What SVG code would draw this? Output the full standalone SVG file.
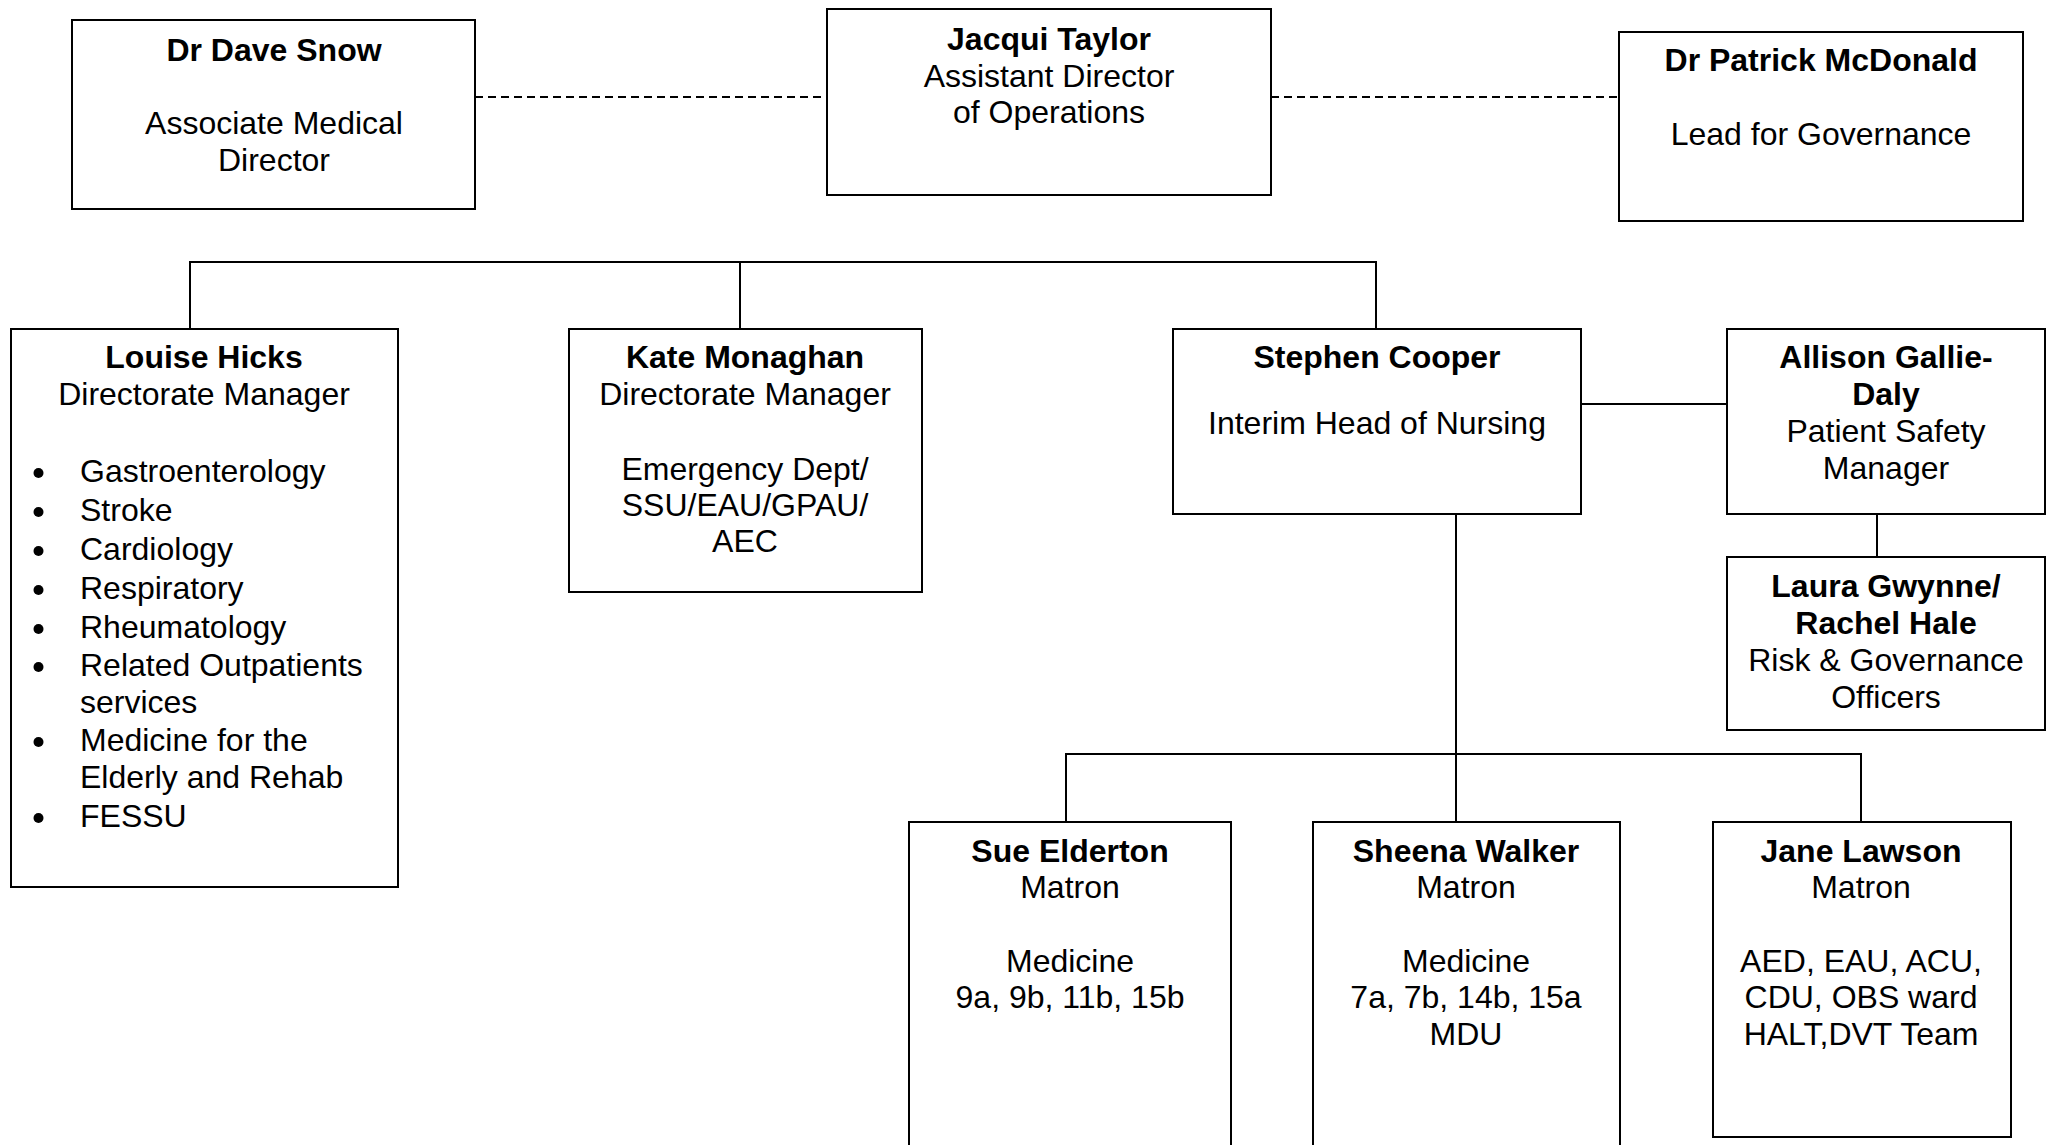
<svg xmlns="http://www.w3.org/2000/svg" width="2054" height="1145" viewBox="0 0 2054 1145">
<style>
  .box { fill: #ffffff; stroke: #000000; stroke-width: 2; }
  .t { font-family: "Liberation Sans", Arial, sans-serif; font-size: 32px; fill: #000000; }
  .c { text-anchor: middle; }
  .b { font-weight: bold; }
  .ln { fill: none; stroke: #000000; stroke-width: 2; }
  .dash { fill: none; stroke: #000000; stroke-width: 2; stroke-dasharray: 8 5; }
</style>
<rect x="0" y="0" width="2054" height="1145" fill="#ffffff"/>

<g id="connectors">
  <path class="dash" d="M475,97 H827"/>
  <path class="dash" d="M1271,97 H1619"/>
  <path class="ln" d="M190,329 V262 H1376 V329"/>
  <path class="ln" d="M740,262 V329"/>
  <path class="ln" d="M1581,404 H1727"/>
  <path class="ln" d="M1877,514 V557"/>
  <path class="ln" d="M1456,514 V822"/>
  <path class="ln" d="M1066,822 V754 H1861 V822"/>
</g>

<g id="dave-snow">
  <rect class="box" x="72" y="20" width="403" height="189"/>
  <text class="t c b" x="274" y="61">Dr Dave Snow</text>
  <text class="t c" x="274" y="134">Associate Medical</text>
  <text class="t c" x="274" y="171">Director</text>
</g>

<g id="jacqui-taylor">
  <rect class="box" x="827" y="9" width="444" height="186"/>
  <text class="t c b" x="1049" y="50">Jacqui Taylor</text>
  <text class="t c" x="1049" y="87">Assistant Director</text>
  <text class="t c" x="1049" y="123">of Operations</text>
</g>

<g id="patrick-mcdonald">
  <rect class="box" x="1619" y="32" width="404" height="189"/>
  <text class="t c b" x="1821" y="71">Dr Patrick McDonald</text>
  <text class="t c" x="1821" y="145">Lead for Governance</text>
</g>

<g id="louise-hicks">
  <rect class="box" x="11" y="329" width="387" height="558"/>
  <text class="t c b" x="204" y="368">Louise Hicks</text>
  <text class="t c" x="204" y="405">Directorate Manager</text>
  <g fill="#000000">
    <circle cx="38.5" cy="473" r="5"/>
    <circle cx="38.5" cy="512" r="5"/>
    <circle cx="38.5" cy="551" r="5"/>
    <circle cx="38.5" cy="590" r="5"/>
    <circle cx="38.5" cy="629" r="5"/>
    <circle cx="38.5" cy="667" r="5"/>
    <circle cx="38.5" cy="742" r="5"/>
    <circle cx="38.5" cy="818" r="5"/>
  </g>
  <text class="t" x="80" y="482">Gastroenterology</text>
  <text class="t" x="80" y="521">Stroke</text>
  <text class="t" x="80" y="560">Cardiology</text>
  <text class="t" x="80" y="599">Respiratory</text>
  <text class="t" x="80" y="638">Rheumatology</text>
  <text class="t" x="80" y="676">Related Outpatients</text>
  <text class="t" x="80" y="713">services</text>
  <text class="t" x="80" y="751">Medicine for the</text>
  <text class="t" x="80" y="788">Elderly and Rehab</text>
  <text class="t" x="80" y="827">FESSU</text>
</g>

<g id="kate-monaghan">
  <rect class="box" x="569" y="329" width="353" height="263"/>
  <text class="t c b" x="745" y="368">Kate Monaghan</text>
  <text class="t c" x="745" y="405">Directorate Manager</text>
  <text class="t c" x="745" y="480">Emergency Dept/</text>
  <text class="t c" x="745" y="516">SSU/EAU/GPAU/</text>
  <text class="t c" x="745" y="552">AEC</text>
</g>

<g id="stephen-cooper">
  <rect class="box" x="1173" y="329" width="408" height="185"/>
  <text class="t c b" x="1377" y="368">Stephen Cooper</text>
  <text class="t c" x="1377" y="434">Interim Head of Nursing</text>
</g>

<g id="allison-gallie-daly">
  <rect class="box" x="1727" y="329" width="318" height="185"/>
  <text class="t c b" x="1886" y="368">Allison Gallie-</text>
  <text class="t c b" x="1886" y="405">Daly</text>
  <text class="t c" x="1886" y="442">Patient Safety</text>
  <text class="t c" x="1886" y="479">Manager</text>
</g>

<g id="laura-gwynne-rachel-hale">
  <rect class="box" x="1727" y="557" width="318" height="173"/>
  <text class="t c b" x="1886" y="597">Laura Gwynne/</text>
  <text class="t c b" x="1886" y="634">Rachel Hale</text>
  <text class="t c" x="1886" y="671">Risk &amp; Governance</text>
  <text class="t c" x="1886" y="708">Officers</text>
</g>

<g id="sue-elderton">
  <rect class="box" x="909" y="822" width="322" height="340"/>
  <text class="t c b" x="1070" y="862">Sue Elderton</text>
  <text class="t c" x="1070" y="898">Matron</text>
  <text class="t c" x="1070" y="972">Medicine</text>
  <text class="t c" x="1070" y="1008">9a, 9b, 11b, 15b</text>
</g>

<g id="sheena-walker">
  <rect class="box" x="1313" y="822" width="307" height="340"/>
  <text class="t c b" x="1466" y="862">Sheena Walker</text>
  <text class="t c" x="1466" y="898">Matron</text>
  <text class="t c" x="1466" y="972">Medicine</text>
  <text class="t c" x="1466" y="1008">7a, 7b, 14b, 15a</text>
  <text class="t c" x="1466" y="1045">MDU</text>
</g>

<g id="jane-lawson">
  <rect class="box" x="1713" y="822" width="298" height="315"/>
  <text class="t c b" x="1861" y="862">Jane Lawson</text>
  <text class="t c" x="1861" y="898">Matron</text>
  <text class="t c" x="1861" y="972">AED, EAU, ACU,</text>
  <text class="t c" x="1861" y="1008">CDU, OBS ward</text>
  <text class="t c" x="1861" y="1045">HALT,DVT Team</text>
</g>
</svg>
